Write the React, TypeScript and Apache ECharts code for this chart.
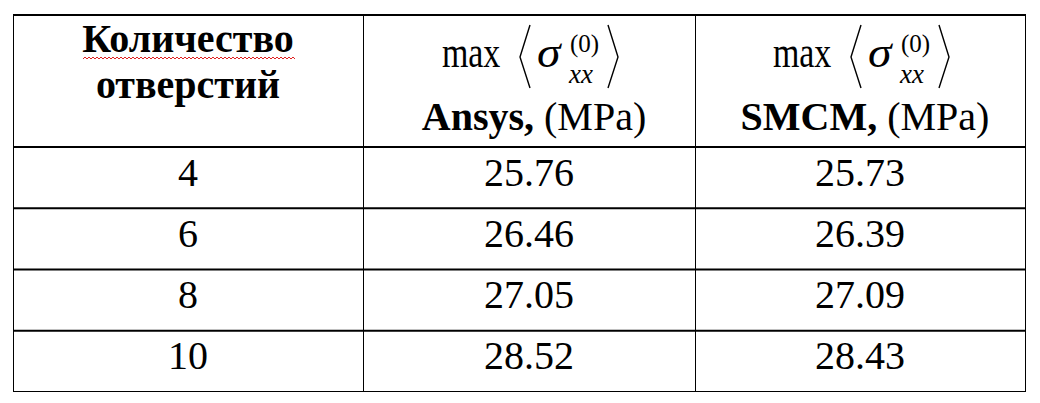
import { useEffect, useRef } from "react";
import * as echarts from "echarts";

const holeCounts = ["4", "6", "8", "10"];
const ansysMax = [25.76, 26.46, 27.05, 28.52];
const smcmMax = [25.73, 26.39, 27.09, 28.43];
const firstHeader = ["Количество", "отверстий"];
const methodLabels = ["Ansys,", "SMCM,"];
const unitLabel = "(MPa)";

const SERIF = "Liberation Serif";
const COLS = [13, 363, 695, 1025];
const TOP = 15;
const HEAD_BOTTOM = 147;
const BOTTOM = 392;

// центр "middle" текста относительно базовой линии (Liberation Serif)
const mid = (baseline: number, size: number) => baseline - 0.3375 * size;

function measure(text: string, font: string) {
  const ctx = document.createElement("canvas").getContext("2d")!;
  ctx.font = font;
  return ctx.measureText(text).width;
}

function mathHeader(cx: number, method: string): any[] {
  const txt = (text: string, x: number, baseline: number, size: number, extra: any = {}, scaleX = 1) => ({
    type: "text",
    x,
    y: mid(baseline, size),
    scaleX,
    style: {
      text,
      x: 0,
      y: 0,
      fontSize: size,
      fontFamily: SERIF,
      fill: "#000",
      align: "left",
      verticalAlign: "middle",
      ...extra,
    },
  });
  const bracket = (xOuter: number, xApex: number) => ({
    type: "polyline",
    shape: { points: [[xOuter, 25], [xApex, 57], [xOuter, 88]] },
    style: { stroke: "#000", lineWidth: 1.4, fill: "none" },
  });

  const wb = measure(method, `bold 40px ${SERIF}`);
  const ws = measure(" ", `40px ${SERIF}`);
  const wu = measure(unitLabel, `40px ${SERIF}`);
  const start = cx + 5 - (wb + ws + wu) / 2;

  return [
    txt("max", cx - 87, 67, 44, {}, 0.77),
    bracket(cx + 1, cx - 9),
    txt("σ", cx + 8, 67, 44, { fontStyle: "italic" }, 1.08),
    txt("(0)", cx + 41, 52, 25),
    txt("xx", cx + 40, 83, 27, { fontStyle: "italic" }),
    bracket(cx + 79, cx + 89),
    txt(method, start, 130, 40, { fontWeight: "bold" }),
    txt(unitLabel, start + wb + ws, 130, 40),
  ];
}

export default function App() {
  const chartRef = useRef<HTMLDivElement>(null);

  useEffect(() => {
    if (!chartRef.current) return;
    document.body.style.margin = "0";
    const chart = echarts.init(chartRef.current, null, { renderer: "svg" });

    const colCenter = (i: number) => (COLS[i] + COLS[i + 1]) / 2;

    // красная волнистая линия под "Количество"
    const squiggle: number[][] = [];
    for (let x = 83, k = 0; x <= 295; x += 2, k++) squiggle.push([x, k % 2 ? 57 : 59]);

    const header: any[] = [
      {
        type: "line",
        shape: { x1: COLS[0], y1: TOP, x2: COLS[3] + 1, y2: TOP },
        style: { stroke: "#000", lineWidth: 2 },
      },
      {
        type: "line",
        shape: { x1: COLS[0], y1: HEAD_BOTTOM, x2: COLS[3] + 1, y2: HEAD_BOTTOM },
        style: { stroke: "#000", lineWidth: 2 },
      },
      ...COLS.map((x) => ({
        type: "line",
        shape: { x1: x + 0.5, y1: TOP, x2: x + 0.5, y2: HEAD_BOTTOM },
        style: { stroke: "#000", lineWidth: 1 },
      })),
      ...firstHeader.map((t, i) => ({
        type: "text",
        style: {
          text: t,
          x: colCenter(0),
          y: mid(i === 0 ? 52 : 98, 40),
          fontSize: 40,
          fontWeight: "bold",
          fontFamily: SERIF,
          fill: "#000",
          align: "center",
          verticalAlign: "middle",
        },
      })),
      {
        type: "polyline",
        shape: { points: squiggle },
        style: { stroke: "#e02020", lineWidth: 1, fill: "none" },
      },
      ...mathHeader(colCenter(1), methodLabels[0]),
      ...mathHeader(colCenter(2), methodLabels[1]),
    ];

    const option: any = {
      animation: false,
      backgroundColor: "#fff",
      grid: { left: COLS[0], right: 1040 - COLS[3], top: HEAD_BOTTOM, bottom: 403 - BOTTOM },
      xAxis: { type: "value", min: 0, max: COLS[3] - COLS[0], show: false },
      yAxis: { type: "category", data: holeCounts, inverse: true, show: false },
      graphic: header,
      series: [
        {
          type: "custom",
          data: holeCounts.map((c, i) => [0, i, ansysMax[i], smcmMax[i]]),
          renderItem: (params: any, api: any) => {
            const idx = api.value(1);
            const [, yc] = api.coord([0, idx]);
            const band = api.size([0, 1])[1];
            const top = yc - band / 2;
            const bot = yc + band / 2;
            const last = idx === holeCounts.length - 1;
            const lineY = last ? Math.round(bot) - 0.5 : bot;
            const texts = [holeCounts[idx], api.value(2).toFixed(2), api.value(3).toFixed(2)];
            return {
              type: "group",
              children: [
                {
                  type: "line",
                  shape: { x1: COLS[0], y1: lineY, x2: COLS[3] + 1, y2: lineY },
                  style: { stroke: "#000", lineWidth: last ? 1 : 2 },
                },
                ...COLS.map((x) => ({
                  type: "line",
                  shape: { x1: x + 0.5, y1: top, x2: x + 0.5, y2: bot },
                  style: { stroke: "#000", lineWidth: 1 },
                })),
                ...texts.map((t, c) => ({
                  type: "text",
                  style: {
                    text: t,
                    x: colCenter(c),
                    y: top + 25,
                    fontSize: 40,
                    fontFamily: SERIF,
                    fill: "#000",
                    align: "center",
                    verticalAlign: "middle",
                  },
                })),
              ],
            };
          },
        },
      ],
    };

    chart.setOption(option);
    return () => chart.dispose();
  }, []);

  return <div ref={chartRef} style={{ width: 1040, height: 403 }} />;
}
